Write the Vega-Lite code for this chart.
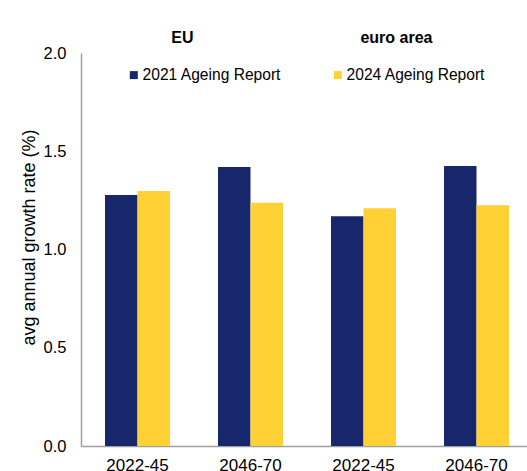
{
  "$schema": "https://vega.github.io/schema/vega-lite/v6.json",
  "autosize": {"type": "none"},
  "width": 452,
  "height": 393,
  "padding": {"left": 81, "top": 53, "right": 0, "bottom": 25},
  "background": "white",
  "config": {"view": {"stroke": null}, "font": "Liberation Sans"},
  "data": {"values": [
    {"region": "EU", "cat": "EU|2022-45", "report": "2021 Ageing Report", "value": 1.277},
    {"region": "EU", "cat": "EU|2022-45", "report": "2024 Ageing Report", "value": 1.298},
    {"region": "EU", "cat": "EU|2046-70", "report": "2021 Ageing Report", "value": 1.42},
    {"region": "EU", "cat": "EU|2046-70", "report": "2024 Ageing Report", "value": 1.238},
    {"region": "euro area", "cat": "euro area|2022-45", "report": "2021 Ageing Report", "value": 1.169},
    {"region": "euro area", "cat": "euro area|2022-45", "report": "2024 Ageing Report", "value": 1.21},
    {"region": "euro area", "cat": "euro area|2046-70", "report": "2021 Ageing Report", "value": 1.425},
    {"region": "euro area", "cat": "euro area|2046-70", "report": "2024 Ageing Report", "value": 1.225}
  ]},
  "layer": [
    {
      "mark": {"type": "bar"},
      "encoding": {
        "x": {
          "field": "cat", "type": "nominal", "sort": null,
          "scale": {"paddingInner": 0.425, "paddingOuter": 0.2125},
          "axis": {
            "title": null, "labelExpr": "split(datum.label, '|')[1]", "labelAngle": 0,
            "ticks": false, "domainColor": "#a0a0a0", "domainWidth": 1.5,
            "labelFontSize": 17, "labelPadding": 11, "labelColor": "black"
          }
        },
        "xOffset": {"field": "report", "type": "nominal"},
        "y": {
          "field": "value", "type": "quantitative",
          "scale": {"domain": [0, 2], "nice": false},
          "axis": {
            "values": [0, 0.5, 1, 1.5, 2], "format": ".1f", "grid": false, "ticks": false,
            "domainColor": "#a0a0a0", "domainWidth": 1.5,
            "labelFontSize": 16.5, "labelPadding": 15, "labelColor": "black",
            "title": "avg annual growth rate (%)", "titleFontSize": 18, "titleFontWeight": "normal",
            "titleColor": "black", "titlePadding": 5, "titleY": 184
          }
        },
        "color": {
          "field": "report", "type": "nominal",
          "scale": {"range": ["#18276B", "#FFD134"]},
          "legend": {
            "title": null, "orient": "none", "direction": "horizontal",
            "legendX": 45, "legendY": 14, "symbolType": "square", "symbolSize": 64,
            "symbolStrokeWidth": 0, "labelFontSize": 15.6, "labelColor": "black",
            "labelOffset": 1, "columnPadding": 48
          }
        }
      }
    },
    {
      "mark": {"type": "text", "opacity": 0},
      "encoding": {
        "x": {
          "field": "region", "type": "nominal", "sort": null,
          "scale": {"type": "point", "padding": 0.556, "align": 0.424},
          "axis": {
            "orient": "top", "title": null, "domain": false, "ticks": false,
            "labelAngle": 0, "labelFontSize": 16, "labelFontWeight": "bold",
            "labelColor": "black", "labelPadding": 8
          }
        }
      }
    }
  ],
  "resolve": {"scale": {"x": "independent"}}
}
